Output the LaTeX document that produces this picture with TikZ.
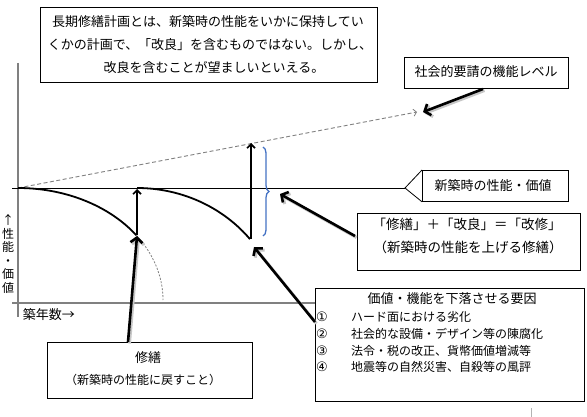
\documentclass[tikz,border=0pt]{standalone}
\usepackage{fontspec}
\setmainfont{Noto Sans CJK JP}
\newfontfamily\dejavu{DejaVu Sans}
\usetikzlibrary{arrows.meta,decorations.pathreplacing}
\definecolor{bracecol}{RGB}{68,114,196}
\definecolor{axisgray}{RGB}{128,128,128}
\newcommand\bigarrow[2]{%
  \draw[bigshadow] ([shift={(1.5,1.5)}]#1) -- ([shift={(1.5,1.5)}]#2);
  \draw[bigarr] (#1) -- (#2);}
\begin{document}
\begin{tikzpicture}[x=1pt,y=-1pt,
  box/.style={draw=black, line width=0.8pt, fill=white, inner sep=0pt, anchor=north west},
  txt/.style={inner sep=0pt, font=\fontsize{13}{13}\selectfont},
  small/.style={inner sep=0pt, font=\fontsize{12}{12}\selectfont},
  circnum/.style={inner sep=0pt, font=\dejavu\fontsize{13}{13}\selectfont},
  bigarr/.style={line width=2.6pt, -{Straight Barb[length=5pt,width=12pt,line width=2.6pt]}},
  bigshadow/.style={line width=3pt, draw=black!22, -{Straight Barb[length=5pt,width=12pt,line width=3pt]}},
  thinarr/.style={line width=1.6pt, -{Straight Barb[length=4pt,width=8pt,line width=1.6pt]}},
  curve/.style={line width=1.8pt, black},
  axis/.style={draw=axisgray, line width=1.1pt},
]
\useasboundingbox (0,0) rectangle (587,417);
\fill[white] (0,0) rectangle (587,417);

% axes
\coordinate (ytop) at (18,63);
\coordinate (ybot) at (18,317);
\coordinate (xl) at (12,303);
\coordinate (xr) at (318,303);
\draw[axis] (ytop) -- (ybot);
\draw[axis] (xl) -- (xr);

% reference horizontal line (new-build level)
\coordinate (hl) at (12,188);
\coordinate (tip) at (405,188);
\draw[line width=0.9pt] (hl) -- (tip);

% dashed social requirement line
\coordinate (o) at (18,188);
\coordinate (s) at (417,112);
\draw[axisgray, line width=0.9pt, dash pattern=on 4pt off 2.5pt,
  -{Straight Barb[length=3pt,width=7pt,line width=0.8pt]}] (o) -- (s);

% curves
\coordinate (p1) at (137,235);
\coordinate (q1) at (137,189);
\coordinate (p2) at (251,239);
\coordinate (q2) at (251,143);
\draw[curve] plot[domain=90:35.2, samples=50] ({18+145*cos(\x)}, {300-112*sin(\x)});
\draw[axisgray, line width=0.8pt, dash pattern=on 2pt off 1.5pt] plot[domain=35.2:0, samples=40] ({18+145*cos(\x)}, {300-112*sin(\x)});
\draw[curve] plot[domain=90:38.8, samples=50] ({137+145*cos(\x)}, {325-137*sin(\x)});
\draw[thinarr] (p1) -- (q1);
\draw[thinarr] (p2) -- (q2);

% brace
\coordinate (bt) at (263,147);
\coordinate (bb) at (263,236);
\draw[bracecol, line width=1.3pt, decorate, decoration={brace, amplitude=6pt}] (bt) -- (bb);

% boxes
\node[box, minimum width=337pt, minimum height=75pt] (top) at (40,7) {};
\node[txt] (t1) at (208,22) {長期修繕計画とは、新築時の性能をいかに保持してい};
\node[txt] (t2) at (210,45) {くかの計画で、「改良」を含むものではない。しかし、};
\node[txt] (t3) at (214,68) {改良を含むことが望ましいといえる。};

\node[box, minimum width=164pt, minimum height=31pt] (soc) at (404,57) {};
\node[txt] (soct) at (486,72) {社会的要請の機能レベル};

\node[box, minimum width=146pt, minimum height=31pt] (newv) at (422,170) {};
\draw[line width=0.8pt] (newv.north west) -- (tip) -- (newv.south west);
\node[txt] (newvt) at (493,186) {新築時の性能・価値};

\node[box, minimum width=223pt, minimum height=57pt] (kai) at (357,213) {};
\node[txt, font=\fontsize{13.5}{13.5}\selectfont] (kai1) at (467,224) {「修繕」＋「改良」＝「改修」};
\node[txt, font=\fontsize{13.5}{13.5}\selectfont] (kai2) at (468,247) {（新築時の性能を上げる修繕）};

\node[box, minimum width=269pt, minimum height=113pt] (you) at (315,288) {};
\node[txt] (yt) at (452,299) {価値・機能を下落させる要因};
\node[circnum] (n1) at (322,317) {①};
\node[circnum] (n2) at (322,334) {②};
\node[circnum] (n3) at (322,351) {③};
\node[circnum] (n4) at (322,367) {④};
\node[small, anchor=west] (i1) at (351,317) {ハード面における劣化};
\node[small, anchor=west] (i2) at (351,334) {社会的な設備・デザイン等の陳腐化};
\node[small, anchor=west] (i3) at (351,351) {法令・税の改正、貨幣価値増減等};
\node[small, anchor=west] (i4) at (351,367) {地震等の自然災害、自殺等の風評};

\node[box, minimum width=205pt, minimum height=56pt] (shu) at (47,342) {};
\node[txt] (shu1) at (148,358) {修繕};
\node[small] (shu2) at (143,380) {（新築時の性能に戻すこと）};

% axis labels
\node[inner sep=0pt, align=center, font=\fontsize{12}{13.5}\selectfont] (ylab) at (8,254) {↑\\性\\能\\・\\価\\値};
\node[txt] (xlab) at (49,315) {築年数→};

% thick arrows
\coordinate (socfrom) at (483,89);
\coordinate (socto) at (423,112);
\coordinate (kaifrom) at (355,236);
\coordinate (kaito) at (280,194);
\coordinate (youfrom) at (315,322);
\coordinate (youto) at (254,247);
\coordinate (shufrom) at (128,342);
\coordinate (shuto) at (137,236);
\bigarrow{socfrom}{socto}
\bigarrow{kaifrom}{kaito}
\bigarrow{youfrom}{youto}
\bigarrow{shufrom}{shuto}

% small page tick
\coordinate (tk1) at (531,408);
\coordinate (tk2) at (531,417);
\draw[axisgray!60, line width=0.8pt] (tk1) -- (tk2);
\end{tikzpicture}
\end{document}
